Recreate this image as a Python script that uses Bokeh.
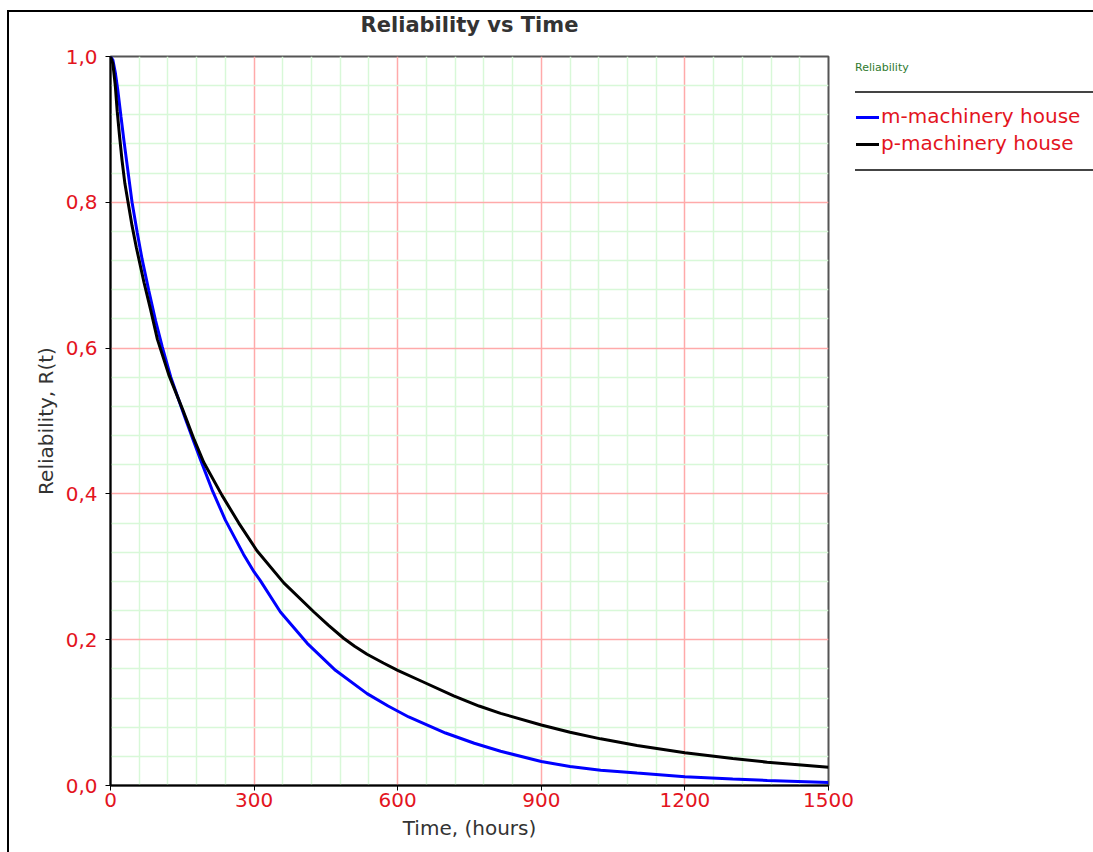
import numpy as np
from bokeh.plotting import figure
from bokeh.models import Range1d, FixedTicker, Div, Title
from bokeh.layouts import row
from bokeh.embed import file_html
from bokeh.resources import INLINE

# ---- data (time in hours, reliability R(t)) ----
m_time = [0, 5, 10, 15, 22, 28, 35, 45, 56, 66, 80, 94, 108, 126, 150, 157, 175, 188, 212,
          240, 278, 300, 313, 355, 411, 470, 536, 580, 623, 700, 760, 815, 900, 960, 1024,
          1100, 1200, 1300, 1372, 1500]
m_rel = [1.0, 0.995, 0.978, 0.955, 0.917, 0.885, 0.85, 0.80, 0.758, 0.722, 0.679, 0.638,
         0.602, 0.56, 0.515, 0.502, 0.47, 0.447, 0.406, 0.364, 0.317, 0.293, 0.281, 0.238,
         0.195, 0.158, 0.126, 0.109, 0.094, 0.072, 0.058, 0.047, 0.033, 0.026, 0.021, 0.017,
         0.012, 0.009, 0.007, 0.004]

p_time = [0, 5, 10, 14, 19, 24, 30, 38, 45, 54, 70, 84, 98, 122, 150, 157, 175, 195, 233,
          268, 306, 362, 425, 455, 487, 510, 536, 570, 600, 650, 717, 770, 815, 900, 960,
          1024, 1100, 1200, 1300, 1372, 1500]
p_rel = [1.0, 0.99, 0.96, 0.925, 0.89, 0.858, 0.826, 0.795, 0.768, 0.738, 0.69, 0.652, 0.612,
         0.563, 0.517, 0.505, 0.474, 0.443, 0.398, 0.36, 0.322, 0.278, 0.238, 0.22, 0.202,
         0.191, 0.18, 0.168, 0.158, 0.143, 0.123, 0.109, 0.099, 0.083, 0.073, 0.064, 0.055,
         0.045, 0.037, 0.032, 0.025]

series_names = ["m-machinery house", "p-machinery house"]
series_colors = ["#0000ff", "#000000"]

x_ticks = [0, 300, 600, 900, 1200, 1500]
y_ticks = [0.0, 0.2, 0.4, 0.6, 0.8, 1.0]
y_tick_labels = ["0,0", "0,2", "0,4", "0,6", "0,8", "1,0"]

title_text = "Reliability vs Time"

RED = "#e3141e"
DARK = "#333333"
FONT = "DejaVu Sans"

x_minor = [float(v) for v in np.arange(0, 1501, 60) if v not in x_ticks]
y_minor = [float(round(v, 2)) for v in np.arange(0, 1.0001, 0.04)
           if not any(abs(v - t) < 1e-9 for t in y_ticks)]

p = figure(width=845, height=840, output_backend="svg", toolbar_location=None,
           x_range=Range1d(0, 1500), y_range=Range1d(0, 1.0), title=None,
           min_border_left=101, min_border_right=26, min_border_top=44, min_border_bottom=67)

# spacer panel between the frame and the title, then the title itself (outermost)
p.add_layout(Title(text=" ", text_font_size="10px", standoff=9, text_color="white"), "above")
p.add_layout(Title(text=title_text, align="center", text_font=FONT, text_font_size="21px",
                   text_font_style="bold", text_color=DARK, standoff=-4), "above")

p.background_fill_color = "white"
p.border_fill_color = "white"
p.outline_line_color = "#555555"
p.outline_line_width = 2

p.xaxis.ticker = FixedTicker(ticks=x_ticks, minor_ticks=x_minor)
p.yaxis.ticker = FixedTicker(ticks=y_ticks, minor_ticks=y_minor)
p.yaxis.major_label_overrides = {t: l for t, l in zip(y_ticks, y_tick_labels)}

for ax in (p.xaxis, p.yaxis):
    ax.axis_line_color = "black"
    ax.axis_line_width = 2
    ax.major_tick_line_color = "black"
    ax.major_tick_line_width = 1
    ax.major_tick_out = 5
    ax.major_tick_in = 0
    ax.minor_tick_line_color = None
    ax.major_label_text_color = RED
    ax.major_label_text_font = FONT
    ax.major_label_text_font_size = "20px"
    ax.axis_label_text_font = FONT
    ax.axis_label_text_font_size = "20px"
    ax.axis_label_text_font_style = "normal"
    ax.axis_label_text_color = DARK

p.xaxis.axis_label = "Time, (hours)"
p.yaxis.axis_label = "Reliability, R(t)"
p.xaxis.major_label_standoff = 2
p.yaxis.major_label_standoff = 8
p.xaxis.axis_label_standoff = 6
p.yaxis.axis_label_standoff = 5

p.xgrid.grid_line_color = "#ffaaaa"
p.ygrid.grid_line_color = "#ffaaaa"
p.xgrid.grid_line_width = 1.5
p.ygrid.grid_line_width = 1.5
p.xgrid.minor_grid_line_color = "#d8f8d8"
p.ygrid.minor_grid_line_color = "#d8f8d8"
p.xgrid.minor_grid_line_width = 1.5
p.ygrid.minor_grid_line_width = 1.5
p.xgrid.level = "underlay"
p.ygrid.level = "underlay"

p.line(m_time, m_rel, line_color=series_colors[0], line_width=3)
p.line(p_time, p_rel, line_color=series_colors[1], line_width=3)

legend_html = f"""
<div style="position:relative;width:239px;height:840px;font-family:'{FONT}';">
  <div style="position:absolute;left:-4px;top:43px;font-size:11px;color:#2f7a2f;white-space:nowrap;">Reliability</div>
  <div style="position:absolute;left:-4px;top:74px;width:245px;height:0;border-top:2px solid #444;"></div>
  <div style="position:absolute;left:-3px;top:99px;width:23px;height:0;border-top:3px solid {series_colors[0]};"></div>
  <div style="position:absolute;left:22px;top:87px;font-size:20px;line-height:24px;color:{RED};white-space:nowrap;">{series_names[0]}</div>
  <div style="position:absolute;left:-3px;top:126px;width:23px;height:0;border-top:3px solid {series_colors[1]};"></div>
  <div style="position:absolute;left:22px;top:114px;font-size:20px;line-height:24px;color:{RED};white-space:nowrap;">{series_names[1]}</div>
  <div style="position:absolute;left:-4px;top:152px;width:245px;height:0;border-top:2px solid #444;"></div>
</div>
"""
legend = Div(text=legend_html, width=239, height=840)

layout = row(p, legend, margin=(10, 0, 0, 7),
             styles={"border-left": "2px solid black", "border-top": "2px solid black"})

open("out.html", "w").write(file_html(layout, INLINE))
